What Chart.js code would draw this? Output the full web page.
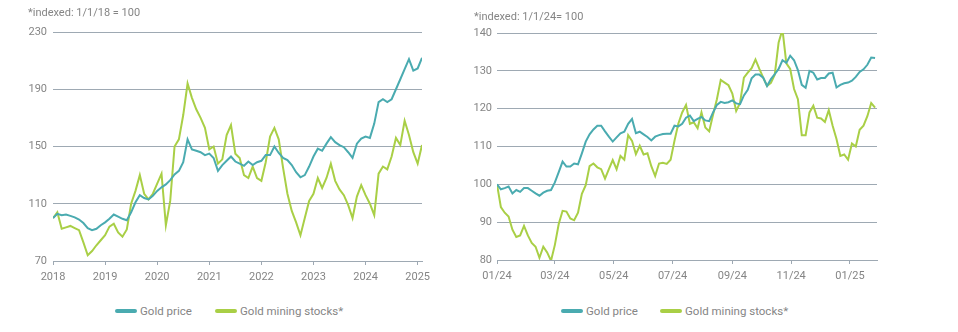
<!DOCTYPE html>
<html>
<head>
<meta charset="utf-8">
<script src="https://cdn.jsdelivr.net/npm/chart.js@4/dist/chart.umd.min.js"></script>
<style>
  body { margin: 0; background: #fff; }
  #wrap { position: relative; width: 958px; height: 332px; overflow: hidden; font-family: Roboto, 'Liberation Sans', sans-serif; color: #858585; }
  #wrap canvas { position: absolute; top: 0; }
  .note { position: absolute; font-size: 11px; line-height: 14px; white-space: nowrap; }
  .item { position: absolute; top: 304px; font-size: 11.5px; line-height: 14px; white-space: nowrap; }
  .key { position: absolute; top: 5px; left: 0; width: 22px; height: 4px; border-radius: 2px; }
  .item span.txt { position: absolute; left: 25px; top: 0; }
</style>
</head>
<body>
<div id="wrap">
  <canvas id="longChart" width="470" height="281" style="left:0"></canvas>
  <canvas id="shortChart" width="488" height="280" style="left:470px"></canvas>

  <div class="note" style="left:28px; top:6px">*indexed: 1/1/18 = 100</div>
  <div class="note" style="left:474px; top:10px">*indexed: 1/1/24= 100</div>

  <div class="item" style="left:115px"><i class="key" style="background:#4aabb0"></i><span class="txt">Gold price</span></div>
  <div class="item" style="left:215px"><i class="key" style="background:#a9cf46"></i><span class="txt">Gold mining stocks*</span></div>
  <div class="item" style="left:561px"><i class="key" style="background:#4aabb0"></i><span class="txt">Gold price</span></div>
  <div class="item" style="left:660px"><i class="key" style="background:#a9cf46"></i><span class="txt">Gold mining stocks*</span></div>
</div>

<script>
const TEAL = '#4aabb0';
const GREEN = '#a9cf46';
const GRID = '#9ea9b3';
const TEXT = '#858585';
const FONT = { family: "Roboto, 'Liberation Sans', sans-serif", size: 11 };

// Long view: monthly closes Jan 2018 - Feb 2025, indexed 1/1/18 = 100
const longStartYear = 2018;
const goldPriceLong = [
  100, 103, 102, 102.5, 101.5, 100.5, 99, 96.5, 93, 91.5, 92.5, 95,
  97, 99.5, 102.5, 101, 99.5, 98.5, 104, 111, 116, 114, 113, 115.5,
  119, 121.5, 123.5, 126.5, 130.5, 133, 139, 155, 148, 147, 146, 144,
  145, 142, 133, 137, 140, 143, 139.5, 138, 136.5, 139.5, 137, 139,
  140, 144, 144, 150, 145.5, 142, 140.5, 137, 132, 128.5, 130, 136,
  143, 148.5, 147, 152, 156.5, 153, 151, 149.5, 146, 142, 152, 155.5,
  157, 156, 166, 181, 183, 181, 183, 190, 197, 204, 211, 203,
  204.5, 212
];
const goldMinersLong = [
  100, 104, 92.5, 93.5, 94.5, 93, 91.5, 83, 74, 77, 81, 84.5,
  88, 94, 96, 90, 87, 92, 110, 119, 130, 117, 113, 117,
  124, 131, 95, 112, 150, 155, 172, 194, 184, 176, 170, 163,
  148, 150, 138, 141, 158, 165, 145, 142, 130, 128, 136, 128,
  126, 139, 157, 163, 155, 135, 117, 105, 97, 88, 100, 112,
  117, 128, 121, 128, 138, 126, 120, 116, 109, 100, 115, 123,
  116, 110, 102, 131, 136, 134, 143, 156, 151, 168, 158, 146,
  138, 151
];
const longYearTicks = [2018, 2019, 2020, 2021, 2022, 2023, 2024, 2025];
const longValueTicks = [70, 110, 150, 190, 230];

// Short view: every 4 days from 1/1/24 to end of Jan 2025, indexed 1/1/24 = 100
const shortStepDays = 4;
const goldPriceShort = [
  100, 98.7, 99, 99.4, 97.6, 98.5, 98, 99, 99, 98.3,
  97.6, 97, 97.8, 98.3, 98.5, 100.5, 103.2, 106, 104.7, 104.7,
  105.5, 105.3, 108.2, 111.3, 113.2, 114.5, 115.5, 115.5, 114, 112.6,
  111.3, 112.4, 113.5, 113.9, 116, 117.3, 113.5, 113.9, 113.2, 112.5,
  111.6, 112.6, 113, 113.3, 113.4, 113.4, 115.5, 115.3, 116, 117.6,
  118.2, 116.7, 117.3, 117.8, 116.9, 116.7, 119, 121, 121.8, 121.5,
  121.7, 122.2, 121.4, 121.2, 123.5, 125, 128, 129, 129, 128.2,
  126, 127.8, 129.1, 130.5, 132.8, 132.1, 134, 132.8, 130.2, 126.3,
  125.5, 130, 129.5, 127.7, 128.1, 128.1, 129.3, 129.5, 125.6, 126.3,
  126.7, 126.9, 127.4, 128.4, 129.7, 130.4, 131.6, 133.5, 133.4
];
const goldMinersShort = [
  100, 94, 92.5, 91.5, 88, 86.1, 86.5, 89, 86.5, 84.5,
  83.5, 80.6, 83.5, 82, 79.8, 84, 89.5, 93, 92.8, 91,
  90.5, 92.5, 97.5, 99.8, 104.8, 105.5, 104.5, 104, 101.5, 104,
  106.4, 104, 107.5, 106.5, 113, 111.5, 108, 110.2, 107.9, 108.2,
  104.8, 102.2, 105.5, 105.7, 105.4, 106.5, 111.5, 116, 119, 121,
  116, 116.4, 114.8, 119, 115, 114, 118.4, 122.5, 127.6, 126.9,
  126.2, 124, 119.4, 121.5, 128.2, 129.5, 130.7, 133, 130.5, 128.2,
  126, 126.8, 129, 137.5, 140.9, 132, 130.5, 125.2, 122.5, 113,
  113, 119, 120.8, 117.6, 117.4, 116.5, 119.6, 115.5, 112, 107.5,
  107.9, 106.5, 110.8, 110, 114.4, 115.5, 118, 121.5, 120.3
];
const shortTickDays = [0, 60, 121, 182, 244, 305, 366];
const shortTickLabels = ['01/24', '03/24', '05/24', '07/24', '09/24', '11/24', '01/25'];
const shortValueTicks = [80, 90, 100, 110, 120, 130, 140];

function lineSet(label, color, points) {
  return { label, data: points, borderColor: color, backgroundColor: color, borderWidth: 2, pointRadius: 0, tension: 0 };
}

function buildChart(id, cfg) {
  return new Chart(document.getElementById(id), {
    type: 'line',
    data: { datasets: cfg.datasets },
    options: {
      responsive: false, animation: false, devicePixelRatio: 1,
      layout: { padding: cfg.padding },
      plugins: { legend: { display: false }, tooltip: { enabled: false } },
      scales: {
        x: {
          type: 'linear', min: cfg.xMin, max: cfg.xMax,
          afterBuildTicks: axis => { axis.ticks = cfg.xTicks.map(v => ({ value: v })); },
          afterFit: axis => { axis.height = 20; },
          grid: { drawOnChartArea: false, drawTicks: true, tickLength: 4, color: GRID },
          border: { display: true, color: GRID },
          ticks: { autoSkip: false, maxRotation: 0, padding: 6, color: TEXT, font: FONT, callback: cfg.xLabel }
        },
        y: {
          min: cfg.yTicks[0], max: cfg.yTicks[cfg.yTicks.length - 1],
          afterBuildTicks: axis => { axis.ticks = cfg.yTicks.map(v => ({ value: v })); },
          afterFit: axis => { axis.width = cfg.yWidth; },
          grid: { color: GRID, drawTicks: false },
          border: { display: false },
          ticks: { padding: cfg.yPad, color: TEXT, font: FONT }
        }
      }
    }
  });
}

const longX = i => longStartYear + i / 12;
buildChart('longChart', {
  datasets: [
    lineSet('Gold price', TEAL, goldPriceLong.map((v, i) => ({ x: longX(i), y: v }))),
    lineSet('Gold mining stocks*', GREEN, goldMinersLong.map((v, i) => ({ x: longX(i), y: v })))
  ],
  xMin: longStartYear, xMax: longX(goldPriceLong.length - 1),
  xTicks: longYearTicks, xLabel: v => String(v),
  yTicks: longValueTicks, yWidth: 53, yPad: 6,
  padding: { top: 32, right: 48, left: 0, bottom: 0 }
});

buildChart('shortChart', {
  datasets: [
    lineSet('Gold price', TEAL, goldPriceShort.map((v, i) => ({ x: i * shortStepDays, y: v }))),
    lineSet('Gold mining stocks*', GREEN, goldMinersShort.map((v, i) => ({ x: i * shortStepDays, y: v })))
  ],
  xMin: 0, xMax: 394,
  xTicks: shortTickDays, xLabel: (v, i) => shortTickLabels[i],
  yTicks: shortValueTicks, yWidth: 27, yPad: 5,
  padding: { top: 33, right: 81, left: 0, bottom: 0 }
});
</script>
</body>
</html>
